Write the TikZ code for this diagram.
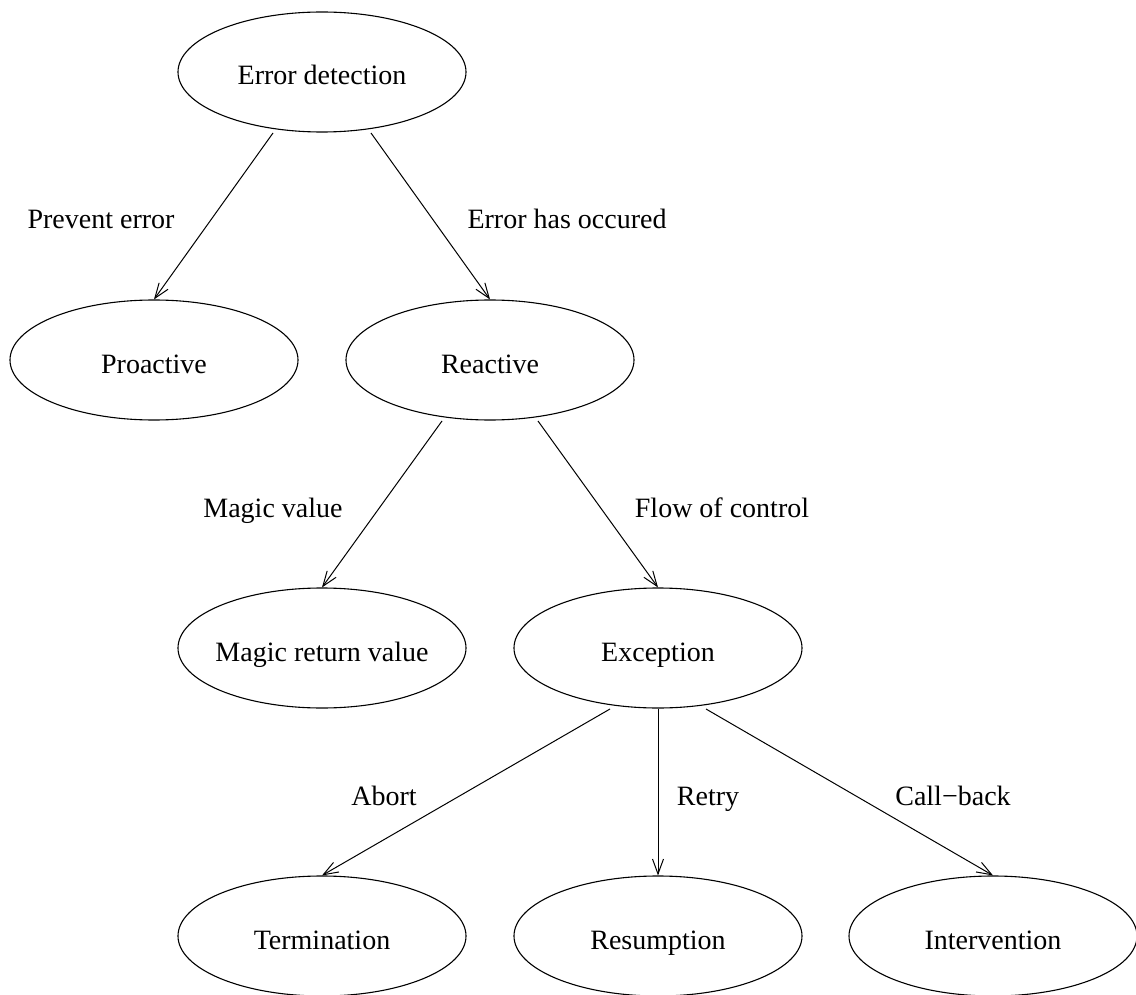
\documentclass[tikz,border=0pt]{standalone}
\usepackage{fontspec}
\setmainfont{Liberation Serif}
\usetikzlibrary{arrows.meta,calc,shapes.geometric}
\begin{document}
\begin{tikzpicture}[x=1pt,y=-1pt,
  font=\fontsize{28}{32}\selectfont,
  state/.style={draw, ellipse, line width=1.1pt, minimum width=288pt, minimum height=120pt,
                inner xsep=-40pt, inner ysep=0pt, text height=26pt, text depth=0pt},
  edge/.style={line width=1pt, -{Straight Barb[length=15pt,width=11pt,line width=1pt]}},
  lbl/.style={anchor=base, inner sep=0pt}]
\useasboundingbox (0,0) rectangle (1136,995);

% tree of states
\node[state] (ed)  at (322,72)  {Error detection};
\node[state] (pro) at (154,360) {Proactive};
\node[state] (rea) at (490,360) {Reactive};
\node[state] (mrv) at (322,648) {Magic return value};
\node[state] (exc) at (658,648) {Exception};
\node[state] (ter) at (322,936) {Termination};
\node[state] (res) at (658,936) {Resumption};
\node[state] (int) at (993,936) {Intervention};

% transitions
\draw[edge] ($(ed.center)+(-49,61)$) -- (pro.north);
\draw[edge] ($(ed.center)+(49,61)$)  -- (rea.north);
\draw[edge] ($(rea.center)+(-48,61)$) -- (mrv.north);
\draw[edge] ($(rea.center)+(48,61)$)  -- (exc.north);
\draw[edge] ($(exc.center)+(-48,61)$) -- (ter.north);
\draw[edge] (exc.south) -- (res.north);
\draw[edge] ($(exc.center)+(48,61)$)  -- (int.north);

% transition labels
\node[lbl] (l1) at (101,229) {Prevent error};
\node[lbl] (l2) at (567,229) {Error has occured};
\node[lbl] (l3) at (273,517) {Magic value};
\node[lbl] (l4) at (722,517) {Flow of control};
\node[lbl] (l5) at (384,805) {Abort};
\node[lbl] (l6) at (708,805) {Retry};
\node[lbl] (l7) at (953,805) {Call−back};
\end{tikzpicture}
\end{document}
